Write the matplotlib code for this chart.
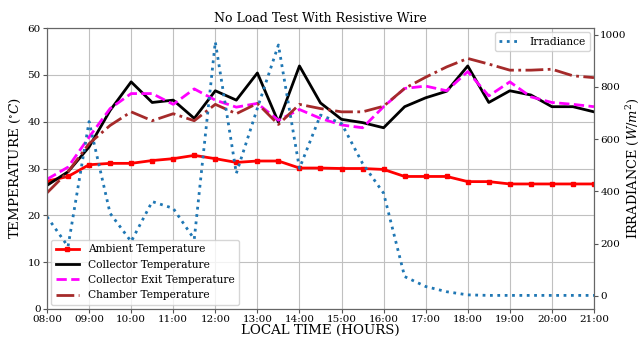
import matplotlib
matplotlib.use("Agg")
import matplotlib.pyplot as plt
import numpy as np

plt.rcParams["font.family"] = "DejaVu Serif"
plt.rcParams["mathtext.fontset"] = "dejavuserif"

# Time axis, every 30 minutes (hours after midnight)
hours = np.arange(8.0, 21.01, 0.5)
tick_hours = list(range(8, 22))
tick_labels = ["%02d:00" % h for h in tick_hours]

ambient = [27.3, 28.3, 30.8, 31.1, 31.1, 31.7, 32.1, 32.8, 32.1, 31.3, 31.6, 31.6, 30.1, 30.1,
           30.0, 30.0, 29.8, 28.3, 28.3, 28.3, 27.2, 27.2, 26.7, 26.7, 26.7, 26.7, 26.7]
collector = [26.4, 29.3, 34.6, 42.4, 48.5, 44.1, 44.6, 40.7, 46.6, 44.6, 50.4, 39.9, 51.9, 44.0,
             40.5, 39.8, 38.7, 43.2, 45.1, 46.5, 51.9, 44.1, 46.6, 45.7, 43.2, 43.2, 42.1]
collector_exit = [27.7, 30.3, 36.7, 42.8, 46.0, 46.0, 43.7, 47.0, 44.6, 43.1, 43.9, 40.3, 42.6, 40.7,
                  39.3, 38.7, 43.2, 47.1, 47.6, 46.6, 50.7, 45.5, 48.5, 45.3, 44.1, 43.7, 43.2]
chamber = [24.8, 29.3, 35.3, 39.2, 42.1, 40.2, 41.7, 40.2, 43.7, 41.7, 43.9, 39.4, 43.7, 42.8,
           42.1, 42.1, 43.3, 47.1, 49.5, 51.7, 53.5, 52.3, 51.0, 51.0, 51.2, 49.8, 49.4]
irradiance = [303, 189, 667, 316, 208, 361, 335, 217, 972, 469, 718, 960, 488, 692,
              660, 507, 393, 74, 36, 16, 4, 2, 2, 2, 2, 2, 2]

fig = plt.figure(figsize=(6.42, 3.4), dpi=100)
ax1 = fig.add_axes([0.0732, 0.0912, 0.8520, 0.8264])

ax1.plot(hours, ambient, color="red", lw=2, marker="s", ms=3, label="Ambient Temperature")
ax1.plot(hours, collector, color="black", lw=2, label="Collector Temperature")
ax1.plot(hours, collector_exit, color="magenta", lw=2, ls="--", label="Collector Exit Temperature")
ax1.plot(hours, chamber, color="brown", lw=2, ls="-.", label="Chamber Temperature")

ax1.set_xlim(8, 21)
ax1.set_ylim(0, 60)
ax1.set_xticks(tick_hours)
ax1.set_xticklabels(tick_labels)
ax1.grid(True, color="#c0c0c0", lw=0.8)
ax1.tick_params(labelsize=7.5, length=3, pad=1.5, color="#555555")
ax1.set_xlabel("LOCAL TIME (HOURS)", fontsize=9.6, labelpad=0)
ax1.set_ylabel("TEMPERATURE ($^{\\circ}C$)", fontsize=9.6, labelpad=3)
ax1.set_title("No Load Test With Resistive Wire", fontsize=9, pad=4)
ax1.legend(loc="lower left", fontsize=7.7, borderaxespad=0.4, handlelength=2.2)

ax2 = ax1.twinx()
ax2.plot(hours, irradiance, color="#1f77b4", lw=2, ls=":", label="Irradiance")
ax2.set_ylim(-50, 1025)
ax2.set_yticks([0, 200, 400, 600, 800, 1000])
ax2.tick_params(labelsize=7.5, length=3, pad=1.5, color="#555555")
ax2.set_ylabel("IRRADIANCE ($W/m^2$)", fontsize=9.4, labelpad=-2)
ax2.legend(loc="upper right", fontsize=7.7, borderaxespad=0.4)

for ax in (ax1, ax2):
    for s in ax.spines.values():
        s.set_color("#666666")

fig.savefig("out.png", dpi=100)
